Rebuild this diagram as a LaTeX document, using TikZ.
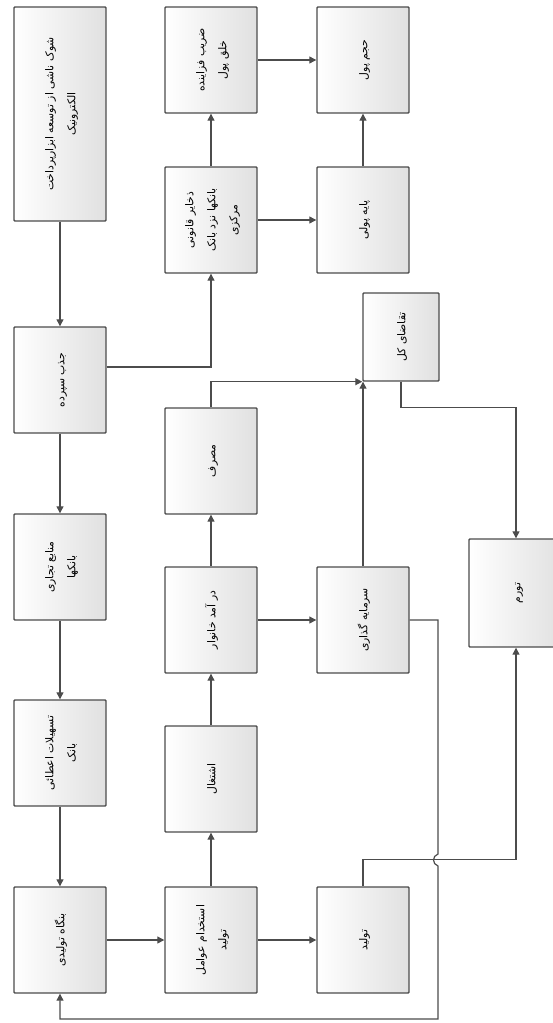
\documentclass[tikz,border=0pt]{standalone}
\usepackage{fontspec}
\usetikzlibrary{arrows.meta}
\TeXXeTstate=1
\newfontfamily\farsi[Script=Arabic]{DejaVu Sans}
\newcommand{\rline}[1]{\beginR #1\endR}
\newcommand{\vtext}[1]{\rotatebox{90}{\begin{tabular}{@{}c@{}}#1\end{tabular}}}

\begin{document}
\begin{tikzpicture}[x=1pt,y=-1pt,
  box/.style={draw=black!70, line width=1.4pt, rounded corners=0.8pt,
    left color=white, right color=black!12,
    minimum width=92pt, minimum height=106pt, inner sep=2pt,
    font=\farsi\fontsize{10.8}{22}\selectfont},
  flow/.style={draw=black!70, line width=1.2pt, -{Triangle[length=7pt,width=7pt]}}]
\useasboundingbox (0,0) rectangle (553,1023);
% first column
\node[box, minimum height=214pt] (shock) at (60,114) {\vtext{\rline{شوک ناشی از توسعه ابزارپرداخت}\\ \rline{الکترونیک}}};
\node[box] (deposit) at (60,380) {\vtext{\rline{جذب سپرده}}};
\node[box] (resources) at (60,567) {\vtext{\rline{منابع تجاری}\\ \rline{بانکها}}};
\node[box] (loans) at (60,753) {\vtext{\rline{تسهیلات اعطائی}\\ \rline{بانک}}};
\node[box] (firm) at (60,940) {\vtext{\rline{بنگاه تولیدی}}};
% second column
\node[box] (multiplier) at (211,60) {\vtext{\rline{ضریب فزاینده}\\ \rline{خلق پول}}};
\node[box] (reserves) at (211,220) {\vtext{\rline{ذخایر قانونی}\\ \rline{بانکها نزد بانک}\\ \rline{مرکزی}}};
\node[box] (consume) at (211,461) {\vtext{\rline{مصرف}}};
\node[box] (income) at (211,620) {\vtext{\rline{در آمد خانوار}}};
\node[box] (employ) at (211,779) {\vtext{\rline{اشتغال}}};
\node[box] (factors) at (211,940) {\vtext{\rline{استخدام عوامل}\\ \rline{تولید}}};
% third column
\node[box] (money) at (363,60) {\vtext{\rline{حجم پول}}};
\node[box] (base) at (363,220) {\vtext{\rline{پایه پولی}}};
\node[box, minimum width=76pt, minimum height=88pt] (demand) at (401,337) {\vtext{\rline{تقاضای کل}}};
\node[box] (invest) at (363,620) {\vtext{\rline{سرمایه گذاری}}};
\node[box] (output) at (363,940) {\vtext{\rline{تولید}}};
\node[box, minimum width=94pt, minimum height=108pt] (inflation) at (516,593) {\vtext{\rline{تورم}}};
% connectors
\draw[flow] (shock) -- (deposit);
\draw[flow] (deposit) -- (resources);
\draw[flow] (resources) -- (loans);
\draw[flow] (loans) -- (firm);
\draw[flow] (firm) -- (factors);
\draw[flow] (factors) -- (employ);
\draw[flow] (employ) -- (income);
\draw[flow] (income) -- (consume);
\draw[flow] (factors) -- (output);
\draw[flow] (income) -- (invest);
\draw[flow] ([yshift=13pt]deposit.east) -| (reserves.south);
\draw[flow] (reserves) -- (multiplier);
\draw[flow] (reserves) -- (base);
\draw[flow] (multiplier) -- (money);
\draw[flow] (base) -- (money);
\draw[flow] (consume.north) |- (demand.south west);
\draw[flow] (invest.north) -- (invest.north |- demand.south);
\draw[flow] (demand.south) -- ([yshift=-26pt]demand.south) -| (inflation.north);
\draw[flow] (output.north) -- ([yshift=27pt]output.north) -| (inflation.south);
\coordinate (hopA) at (438,854);
\coordinate (hopB) at (438,866);
\coordinate (loop) at (438,1019);
\draw[flow] (invest.east) -| (hopA) .. controls (432,856) and (432,864) .. (hopB) -- (loop) -| (firm.south);
\end{tikzpicture}
\end{document}
